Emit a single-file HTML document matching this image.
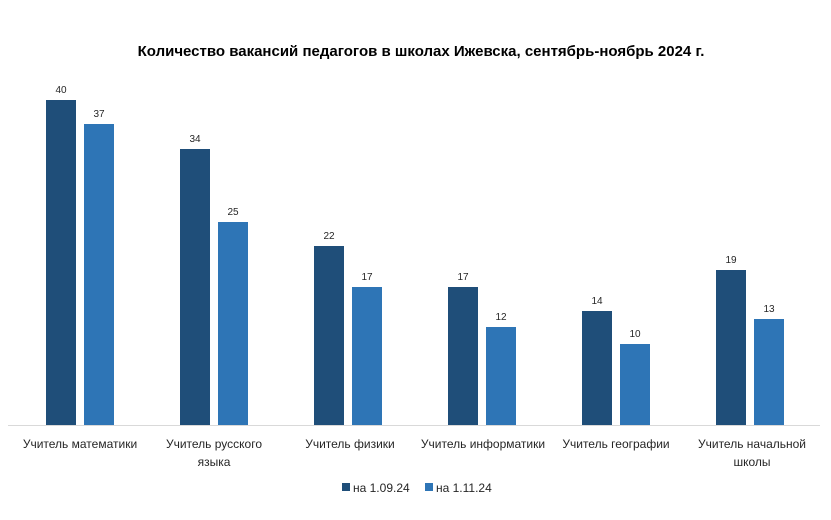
<!DOCTYPE html>
<html><head><meta charset="utf-8"><style>
body{margin:0;background:#fff}
svg{display:block;font-family:"Liberation Sans","DejaVu Sans",sans-serif}
</style></head><body>
<svg width="831" height="520" viewBox="0 0 831 520">
<rect width="831" height="520" fill="#fff"/>
<text x="421" y="56" text-anchor="middle" font-size="15" font-weight="bold" fill="#000">Количество вакансий  педагогов  в школах Ижевска, сентябрь-ноябрь  2024 г.</text>
<line x1="8" y1="425.5" x2="820" y2="425.5" stroke="#d9d9d9" stroke-width="1"/>
<g font-size="10" fill="#262626" text-anchor="middle">
<rect x="46" y="100" width="30" height="325" fill="#1f4e79"/><text x="61" y="93">40</text>
<rect x="84" y="124" width="30" height="301" fill="#2e75b6"/><text x="99" y="117">37</text>
<rect x="180" y="149" width="30" height="276" fill="#1f4e79"/><text x="195" y="142">34</text>
<rect x="218" y="222" width="30" height="203" fill="#2e75b6"/><text x="233" y="215">25</text>
<rect x="314" y="246" width="30" height="179" fill="#1f4e79"/><text x="329" y="239">22</text>
<rect x="352" y="287" width="30" height="138" fill="#2e75b6"/><text x="367" y="280">17</text>
<rect x="448" y="287" width="30" height="138" fill="#1f4e79"/><text x="463" y="280">17</text>
<rect x="486" y="327" width="30" height="98" fill="#2e75b6"/><text x="501" y="320">12</text>
<rect x="582" y="311" width="30" height="114" fill="#1f4e79"/><text x="597" y="304">14</text>
<rect x="620" y="344" width="30" height="81" fill="#2e75b6"/><text x="635" y="337">10</text>
<rect x="716" y="270" width="30" height="155" fill="#1f4e79"/><text x="731" y="263">19</text>
<rect x="754" y="319" width="30" height="106" fill="#2e75b6"/><text x="769" y="312">13</text>
</g>
<g font-size="12" fill="#262626" text-anchor="middle">
<text x="80" y="448">Учитель математики</text>
<text x="214" y="448">Учитель русского</text>
<text x="214" y="466">языка</text>
<text x="350" y="448">Учитель физики</text>
<text x="483" y="448">Учитель информатики</text>
<text x="616" y="448">Учитель географии</text>
<text x="752" y="448">Учитель начальной</text>
<text x="752" y="466">школы</text>
</g>
<g font-size="12" fill="#262626">
<rect x="342" y="483" width="8" height="8" fill="#1f4e79"/><text x="353" y="492">на 1.09.24</text>
<rect x="425" y="483" width="8" height="8" fill="#2e75b6"/><text x="436" y="492">на 1.11.24</text>
</g>
</svg>
</body></html>
